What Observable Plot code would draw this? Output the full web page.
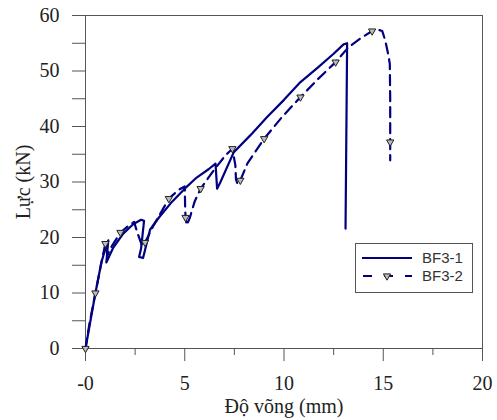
<!DOCTYPE html>
<html><head><meta charset="utf-8">
<script src="https://cdn.jsdelivr.net/npm/d3@7"></script>
<script src="https://cdn.jsdelivr.net/npm/@observablehq/plot@0.6"></script>
<style>
body{margin:0;background:#fff}
#wrap{position:relative;width:497px;height:420px}
#legend{position:absolute;left:355px;top:243px;width:116px;height:48px;border:1px solid #555;background:#fff}
</style>
</head><body><div id="wrap"><div id="chart"></div><div id="legend"></div></div>
<script>
// BF3-1 (solid)
const bf1X = [0, 0.2, 0.5, 0.8, 1.0, 1.15, 1.05, 1.4, 1.9, 2.4, 2.8, 2.95, 2.8, 2.7, 2.9, 3.25, 3.7, 4.3, 5.0, 5.6, 6.2, 6.55, 6.63, 6.8, 7.46, 8.3, 9.15, 10.0, 10.83, 11.7, 12.5, 13.0, 13.18, 13.1];
const bf1Y = [0, 4, 10, 15.5, 18, 19.5, 15.5, 18.2, 20.7, 22.4, 23.2, 23.0, 18, 16.5, 16.3, 21.4, 23.6, 26.2, 28.8, 30.8, 32.3, 33.3, 28.8, 30.0, 35.3, 38.4, 41.7, 44.8, 48.0, 50.6, 53.1, 54.8, 55.0, 21.6];
// BF3-2 (dashed)
const bf2X = [0, 0.2, 0.5, 0.8, 1.0, 1.1, 1.3, 1.76, 2.2, 2.45, 2.6, 2.85, 3.0, 3.4, 4.2, 4.7, 5.0, 5.02, 5.04, 5.1, 5.25, 5.5, 5.8, 6.5, 7.05, 7.4, 7.55, 7.58, 7.65, 7.8, 8.15, 9.0, 9.9, 10.83, 11.7, 12.6, 13.25, 13.9, 14.44, 14.77, 14.95, 15.1, 15.25, 15.33, 15.35, 15.35, 15.35];
const bf2Y = [0, 4.5, 10, 15.5, 18.9, 16.8, 18.3, 20.9, 22.2, 22.8, 21.0, 18.5, 19.1, 22.0, 27.0, 28.6, 29.2, 25.5, 23.6, 22.2, 23.5, 26.5, 28.8, 32.3, 34.8, 36.0, 33.0, 30.5, 29.7, 30.3, 33.3, 37.8, 41.7, 45.3, 48.5, 51.6, 54.3, 56.0, 57.2, 57.4, 57.2, 55.5, 53.0, 51.3, 45.0, 37.2, 33.9];
// BF3-2 markers
const mkX = [0, 0.5, 1.0, 1.76, 3.0, 4.2, 5.04, 5.8, 7.4, 7.8, 9.0, 10.83, 12.6, 14.44, 15.35];
const mkY = [0, 10, 18.9, 20.9, 19.1, 27.0, 23.6, 28.8, 36.0, 30.3, 37.8, 45.3, 51.6, 57.2, 37.2];

const xMajor = [0, 5, 10, 15, 20];
const xMinor = [2.5, 7.5, 12.5, 17.5];
const yTicks = [0, 5, 10, 15, 20, 25, 30, 35, 40, 45, 50, 55, 60];
const yLabeled = [0, 10, 20, 30, 40, 50, 60];
const seriesNames = ["BF3-1", "BF3-2"];

const line1 = bf1X.map((x, i) => ({x, y: bf1Y[i]}));
const line2 = bf2X.map((x, i) => ({x, y: bf2Y[i]}));
const marks2 = mkX.map((x, i) => ({x, y: mkY[i]}));

const navy = "#000080";
const axisCol = "#555";

const plot = Plot.plot({
  width: 497, height: 420,
  marginLeft: 85, marginRight: 15, marginTop: 15, marginBottom: 72,
  style: {fontFamily: "'Liberation Serif','Times New Roman',serif", fontSize: "20px", color: "#222", background: "#fff"},
  x: {domain: [0, 20]},
  y: {domain: [0, 60]},
  marks: [
    Plot.frame({stroke: axisCol}),
    Plot.axisX(xMinor, {tickSize: 7, tickFormat: () => "", stroke: axisCol, label: null}),
    Plot.axisX(xMajor, {tickSize: 13, tickPadding: 14, stroke: axisCol,
      tickFormat: d => d === 0 ? "-0" : String(d),
      label: "Độ võng (mm)", labelAnchor: "center", labelArrow: "none", labelOffset: 64}),
    Plot.axisY(yTicks, {tickSize: 13, tickPadding: 13, stroke: axisCol,
      tickFormat: d => yLabeled.includes(d) ? String(d) : "",
      label: "Lực (kN)", labelAnchor: "center", labelArrow: "none", labelOffset: 70}),
    Plot.line(line1, {x: "x", y: "y", stroke: navy, strokeWidth: 2.2}),
    Plot.line(line2, {x: "x", y: "y", stroke: navy, strokeWidth: 2.2, strokeDasharray: "10,6"}),
    Plot.dot(marks2, {x: "x", y: "y", symbol: "triangle", rotate: 180, r: 2.7, fill: "#bbb", stroke: "#222", strokeWidth: 1})
  ]
});
document.getElementById("chart").appendChild(plot);

const lg = d3.select("#legend").append("svg").attr("width", 116).attr("height", 48)
  .style("font-family", "'Liberation Sans',Arial,sans-serif").style("font-size", "15px");
lg.append("line").attr("x1", 6).attr("x2", 56).attr("y1", 14).attr("y2", 14).attr("stroke", navy).attr("stroke-width", 2.2);
lg.append("line").attr("x1", 6).attr("x2", 56).attr("y1", 32).attr("y2", 32).attr("stroke", navy).attr("stroke-width", 2.2).attr("stroke-dasharray", "9,12").attr("stroke-dashoffset", -1);
lg.append("path").attr("d", d3.symbol(d3.symbolTriangle, Math.PI * 2.7 * 2.7)()).attr("transform", "translate(31,32) rotate(180)").attr("fill", "#bbb").attr("stroke", "#222");
lg.selectAll("text.l").data(seriesNames).join("text").attr("x", 66).attr("y", (d, i) => 19 + i * 18).attr("fill", "#333").text(d => d);
</script>
</body></html>
